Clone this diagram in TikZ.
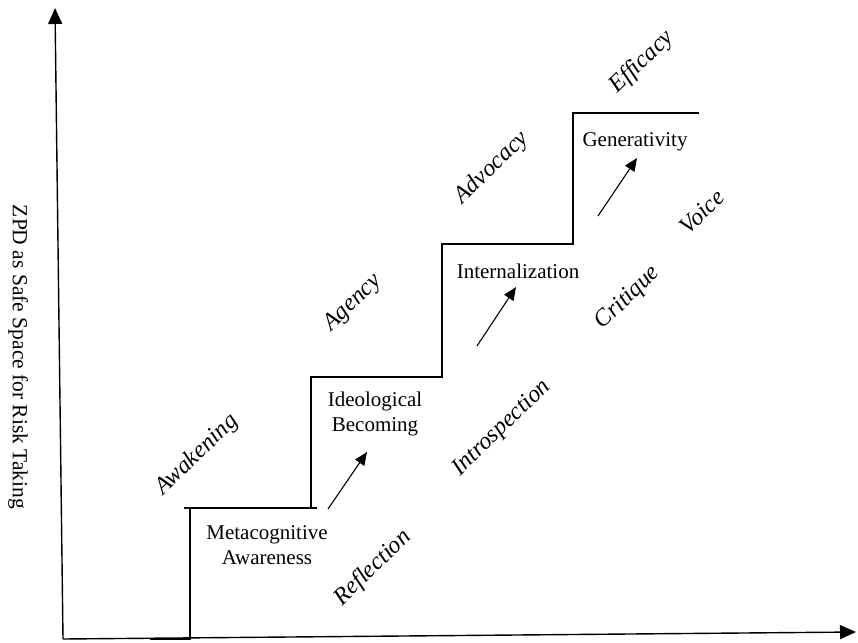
\documentclass[tikz,border=0pt]{standalone}
\usepackage{fontspec}
\setmainfont{Liberation Serif}
\usetikzlibrary{arrows.meta}
\begin{document}
\begin{tikzpicture}[x=1pt,y=-1pt,
  axis/.style={line width=1.4pt,-{Triangle[length=16pt,width=14pt]}},
  stair/.style={line width=1.1pt},
  uparrow/.style={line width=1.1pt,-{Triangle[length=13pt,width=11pt]}},
  stage/.style={align=center,font=\fontsize{21}{25}\selectfont,inner sep=0pt},
  quality/.style={font=\fontsize{24}{28}\selectfont\itshape,inner sep=0pt,rotate=44},
  ylabel/.style={font=\fontsize{21.5}{25}\selectfont,inner sep=0pt,rotate=-90}]
\useasboundingbox (0,0) rectangle (858,642);
% axes
\coordinate (O) at (63,639);
\coordinate (ytop) at (55,8);
\coordinate (xend) at (856,632);
\draw[axis] (O) -- (ytop);
\draw[axis] (O) -- (xend);
\node[ylabel] (ylab) at (18,357) {ZPD as Safe Space for Risk Taking};
% staircase
\coordinate (s0) at (150,639);
\coordinate (s1) at (190,639);
\coordinate (s2) at (190,508);
\coordinate (s3) at (311,508);
\coordinate (s4) at (311,377);
\coordinate (s5) at (442,377);
\coordinate (s6) at (442,244);
\coordinate (s7) at (573,244);
\coordinate (s8) at (573,113);
\coordinate (s9) at (699,113);
\draw[stair] (s0) -- (s1) -- (s2) -- (s3) -- (s4) -- (s5) -- (s6) -- (s7) -- (s8) -- (s9);
\coordinate (o1) at (184,508);
\coordinate (o2) at (317,508);
\draw[stair] (o1) -- (s2) (s3) -- (o2);
% stage texts
\node[stage] (meta) at (267,545) {Metacognitive\\Awareness};
\node[stage] (ideo) at (375,414) {Ideological\\Becoming};
\node[stage] (inter) at (518,271) {Internalization};
\node[stage] (gen) at (635,142) {Generativity};
% arrows
\coordinate (a1s) at (328,509);
\coordinate (a1e) at (367,452);
\coordinate (a2s) at (477,346);
\coordinate (a2e) at (516,287);
\coordinate (a3s) at (598,216);
\coordinate (a3e) at (637,158);
\draw[uparrow] (a1s) -- (a1e);
\draw[uparrow] (a2s) -- (a2e);
\draw[uparrow] (a3s) -- (a3e);
% italic qualities
\node[quality] (awak) at (197,455) {Awakening};
\node[quality] (agen) at (353,303) {Agency};
\node[quality] (advo) at (492,168) {Advocacy};
\node[quality] (effi) at (642,62) {Efficacy};
\node[quality] (refl) at (373,568) {Reflection};
\node[quality] (intro) at (502,428) {Introspection};
\node[quality] (crit) at (628,298) {Critique};
\node[quality] (voic) at (702,212) {Voice};
\end{tikzpicture}
\end{document}
